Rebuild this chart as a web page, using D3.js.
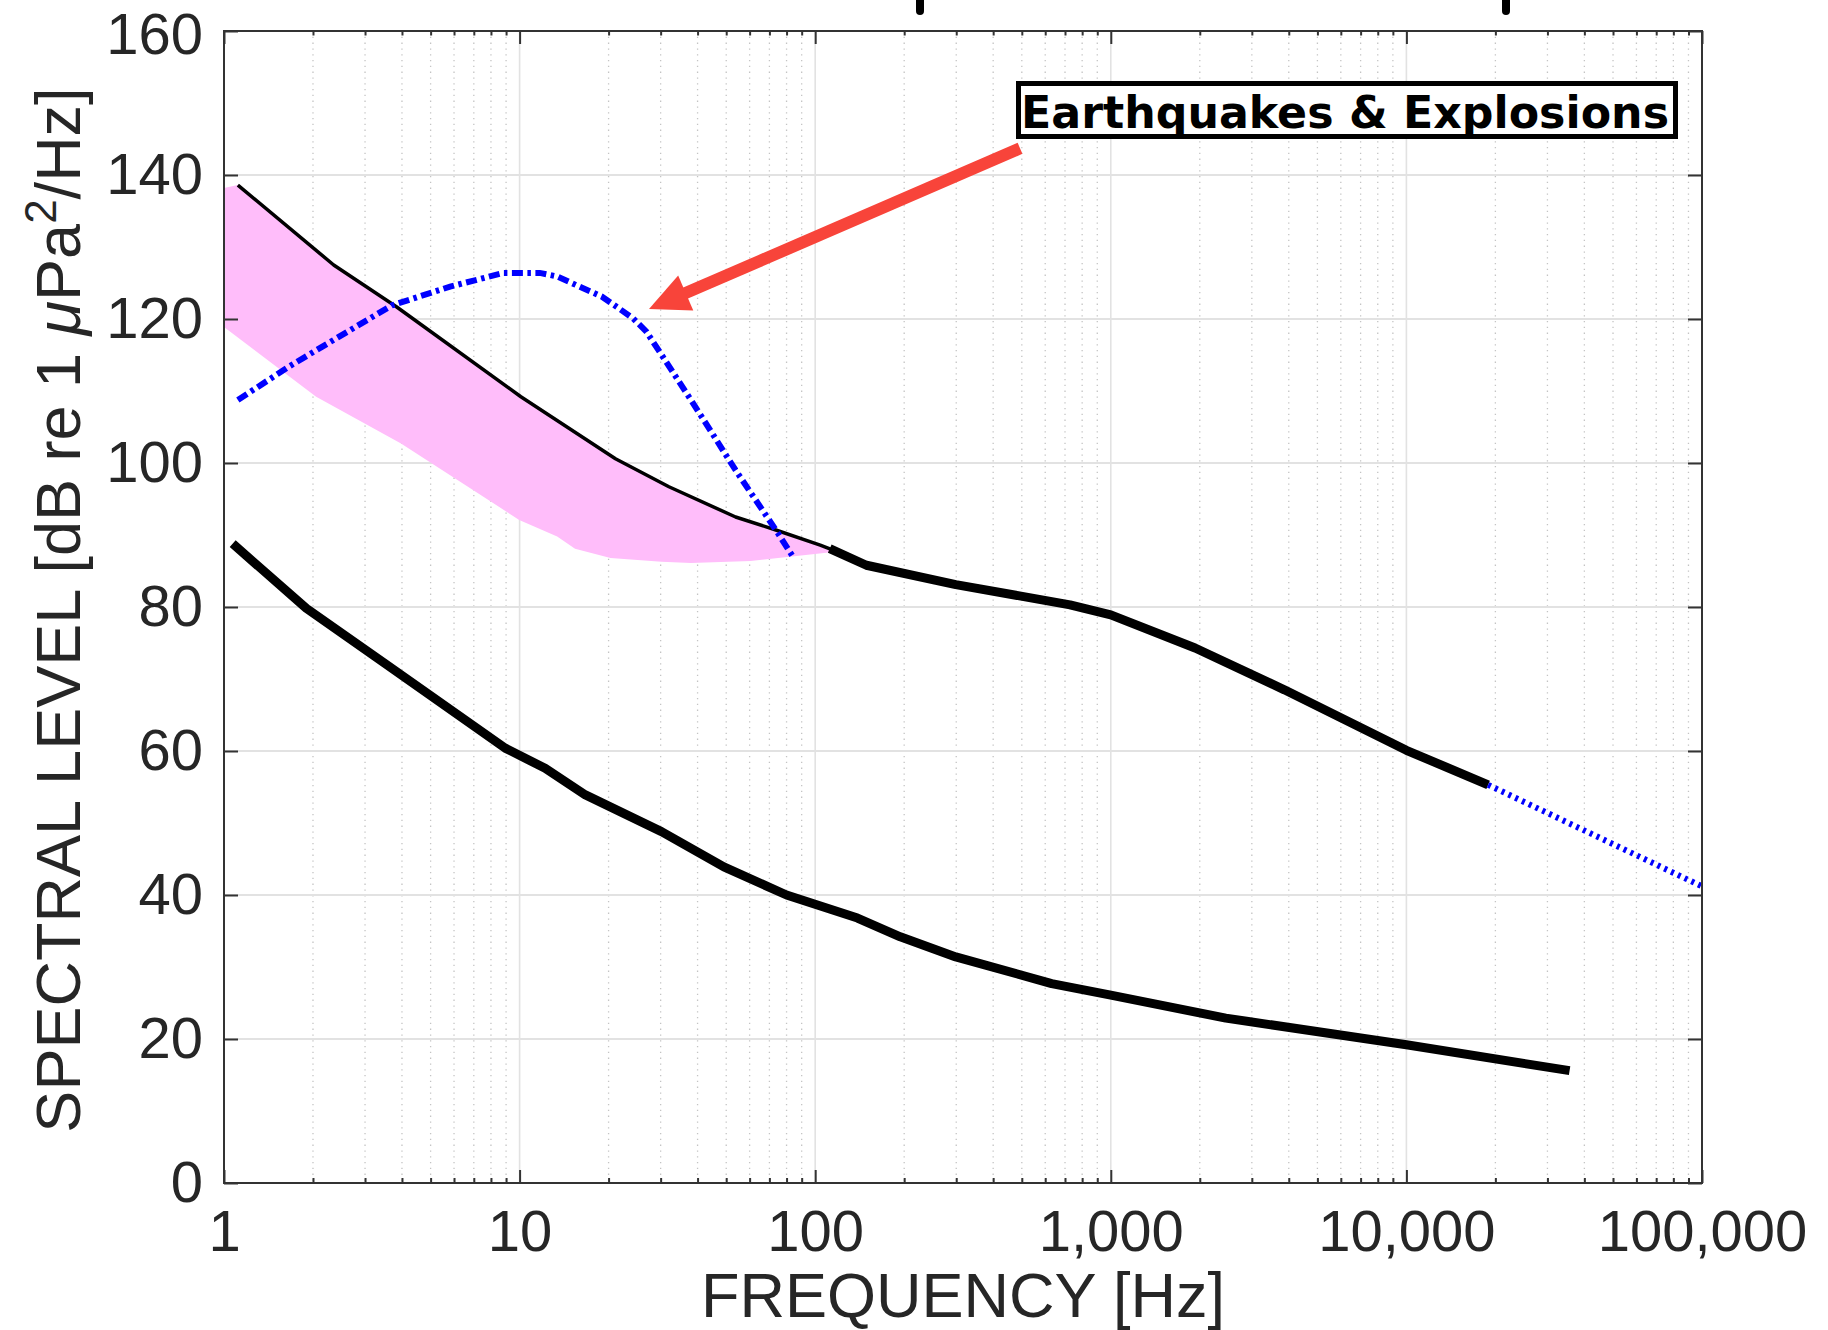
<!DOCTYPE html>
<html>
<head>
<meta charset="utf-8">
<script src="https://cdn.jsdelivr.net/npm/d3@7"></script>
<style>
  body { margin: 0; background: #fff; }
  svg { display: block; background: #fff; }
</style>
</head>
<body>
<svg id="chart" width="1828" height="1330"></svg>
<script>
// values (frequency in Hz, level in dB)

// upper black curve, thin part below ~100 Hz
const upperThinFreq = [1.114, 2.35, 3.83, 10.1, 21.1, 32, 53.8, 73.6, 104, 115];
const upperThinDb   = [138.6, 127.5, 121.7, 109.2, 100.6, 96.7, 92.5, 90.7, 88.6, 87.9];

// upper black curve, thick part
const upperThickFreq = [112, 149, 299, 728, 1000, 1928, 3865, 10000, 18900];
const upperThickDb   = [88.1, 85.8, 83.1, 80.3, 78.9, 74.3, 68.5, 60.1, 55.3];

// extrapolated part (blue dotted)
const extrapFreq = [18900, 100000];
const extrapDb   = [55.3, 41.2];

// lower black curve
const lowerFreq = [1.07, 1.9, 3.49, 8.94, 12.2, 16.7, 30.2, 49.1, 80, 139, 194, 299, 631, 1000, 2450, 10000, 35650];
const lowerDb   = [88.8, 79.8, 72.2, 60.4, 57.6, 53.9, 48.8, 43.9, 40, 36.8, 34.2, 31.4, 27.7, 26.1, 22.9, 19.2, 15.6];

// earthquakes & explosions (blue dash-dot)
const quakeFreq = [1.114, 1.66, 2.35, 3.70, 5.82, 8.83, 11.7, 13.4, 19, 24.2, 26.9, 38, 53.8, 73.6, 84.6];
const quakeDb   = [108.75, 113.4, 117.1, 121.9, 124.5, 126.4, 126.4, 125.9, 123.1, 120.1, 118.2, 108.75, 99, 90.7, 86.8];

// pink band
const bandTopFreq = [1, 1.114, 2.35, 3.83, 10.1, 21.1, 32, 53.8, 73.6, 104, 115];
const bandTopDb   = [138.2, 138.6, 127.5, 121.7, 109.2, 100.6, 96.7, 92.5, 90.7, 88.6, 87.9];
const bandLowFreq = [1, 2.05, 3.97, 9.97, 13.4, 15.4, 20.3, 30.2, 38, 60.5, 113];
const bandLowDb   = [118.9, 109.2, 102.7, 92.1, 89.8, 88.1, 86.8, 86.3, 86.1, 86.4, 87.6];

// red arrow (tail -> tip)
const arrowFreq = [493, 27.4];
const arrowDb   = [143.7, 121.4];

// ticks
const xMajor = [1, 10, 100, 1000, 10000, 100000];
const yMajor = [0, 20, 40, 60, 80, 100, 120, 140, 160];
const xMinor = [];
for (let d = 1; d < 100000; d *= 10) for (let k = 2; k <= 9; k++) xMinor.push(d * k);

const legendText = "Earthquakes & Explosions";

const svg = d3.select("#chart");
const m = {left: 224, right: 1702, top: 31, bottom: 1183};
const FONT = "'Liberation Sans', Arial, Helvetica, sans-serif";
const TXT = "#262626";

const x = d3.scaleLog().domain([1, 100000]).range([m.left, m.right]);
const y = d3.scaleLinear().domain([0, 160]).range([m.bottom, m.top]);

// grid
const grid = svg.append("g");
grid.selectAll(".minor").data(xMinor).join("line")
  .attr("x1", d => x(d)).attr("x2", d => x(d))
  .attr("y1", m.top).attr("y2", m.bottom)
  .attr("stroke", "#c4c4c4").attr("stroke-width", 1.3)
  .attr("stroke-dasharray", "1.3,4.5");
grid.selectAll(".majx").data(xMajor.slice(1, -1)).join("line")
  .attr("x1", d => x(d)).attr("x2", d => x(d))
  .attr("y1", m.top).attr("y2", m.bottom)
  .attr("stroke", "#e2e2e2").attr("stroke-width", 1.6);
grid.selectAll(".majy").data(yMajor.slice(1, -1)).join("line")
  .attr("x1", m.left).attr("x2", m.right)
  .attr("y1", d => y(d)).attr("y2", d => y(d))
  .attr("stroke", "#e2e2e2").attr("stroke-width", 2);

const line = d3.line().x(d => x(d[0])).y(d => y(d[1]));

// pink band
const bandPts = d3.zip(bandTopFreq, bandTopDb).concat(d3.zip(bandLowFreq, bandLowDb).reverse());
svg.append("path")
  .attr("d", line(bandPts) + "Z")
  .attr("fill", "#ffbdfa");

// curves
svg.append("path").attr("d", line(d3.zip(upperThinFreq, upperThinDb)))
  .attr("fill", "none").attr("stroke", "#000").attr("stroke-width", 3.5)
  .attr("stroke-linejoin", "round");
svg.append("path").attr("d", line(d3.zip(upperThickFreq, upperThickDb)))
  .attr("fill", "none").attr("stroke", "#000").attr("stroke-width", 9)
  .attr("stroke-linejoin", "round");
svg.append("path").attr("d", line(d3.zip(lowerFreq, lowerDb)))
  .attr("fill", "none").attr("stroke", "#000").attr("stroke-width", 9)
  .attr("stroke-linejoin", "round");
svg.append("path").attr("d", line(d3.zip(extrapFreq, extrapDb)))
  .attr("fill", "none").attr("stroke", "#0000ff").attr("stroke-width", 6)
  .attr("stroke-dasharray", "3,4.5");
svg.append("path").attr("d", line(d3.zip(quakeFreq, quakeDb)))
  .attr("fill", "none").attr("stroke", "#0000ff").attr("stroke-width", 6)
  .attr("stroke-dasharray", "11,4.5,3.5,4.5");

// axes frame
svg.append("rect")
  .attr("x", m.left).attr("y", m.top)
  .attr("width", m.right - m.left).attr("height", m.bottom - m.top)
  .attr("fill", "none").attr("stroke", "#333").attr("stroke-width", 2);

function styleAxis(g) {
  g.select(".domain").remove();
  g.selectAll(".tick line").attr("stroke", "#333").attr("stroke-width", 2);
  g.selectAll("text").attr("fill", TXT).attr("font-family", FONT).attr("font-size", 58);
}

svg.append("g").attr("transform", `translate(0,${m.bottom})`)
  .call(d3.axisBottom(x).tickValues(xMajor).tickSizeInner(-13).tickSizeOuter(0)
    .tickPadding(27).tickFormat(d3.format(",")))
  .call(styleAxis);
svg.append("g").attr("transform", `translate(0,${m.bottom})`)
  .call(d3.axisBottom(x).tickValues(xMinor).tickSize(-5).tickFormat(""))
  .call(styleAxis);
svg.append("g").attr("transform", `translate(0,${m.top})`)
  .call(d3.axisTop(x).tickValues(xMajor).tickSize(-13).tickFormat(""))
  .call(styleAxis);
svg.append("g").attr("transform", `translate(0,${m.top})`)
  .call(d3.axisTop(x).tickValues(xMinor).tickSize(-4.5).tickFormat(""))
  .call(styleAxis);
svg.append("g").attr("transform", `translate(${m.left},0)`)
  .call(d3.axisLeft(y).tickValues(yMajor).tickSizeInner(-14).tickSizeOuter(0).tickPadding(21))
  .call(styleAxis)
  // keep the topmost label inside the page
  .selectAll(".tick text").filter(d => d === 160).attr("dy", "0.38em");
svg.append("g").attr("transform", `translate(${m.right},0)`)
  .call(d3.axisRight(y).tickValues(yMajor).tickSize(-14).tickFormat(""))
  .call(styleAxis);

// axis labels
svg.append("text")
  .attr("x", (m.left + m.right) / 2).attr("y", 1317)
  .attr("text-anchor", "middle")
  .attr("font-family", FONT).attr("font-size", 63).attr("fill", TXT)
  .text("FREQUENCY [Hz]");

const yl = svg.append("text")
  .attr("transform", "translate(80,610) rotate(-90)")
  .attr("text-anchor", "middle")
  .attr("font-family", FONT).attr("font-size", 63).attr("fill", TXT);
yl.append("tspan").text("SPECTRAL LEVEL [dB re 1 ");
yl.append("tspan").attr("font-style", "italic").text("\u03bc");
yl.append("tspan").text("Pa");
yl.append("tspan").attr("font-size", 44).attr("dy", -24).text("2");
yl.append("tspan").attr("dy", 24).text("/Hz]");

// red arrow
const tail = [x(arrowFreq[0]), y(arrowDb[0])];
const tip = [x(arrowFreq[1]), y(arrowDb[1])];
const len = Math.hypot(tip[0] - tail[0], tip[1] - tail[1]);
const u = [(tip[0] - tail[0]) / len, (tip[1] - tail[1]) / len];
const n = [-u[1], u[0]];
const headLen = 40, headHalf = 19;
const base = [tip[0] - u[0] * headLen, tip[1] - u[1] * headLen];
svg.append("line")
  .attr("x1", tail[0]).attr("y1", tail[1])
  .attr("x2", base[0] + u[0] * 2).attr("y2", base[1] + u[1] * 2)
  .attr("stroke", "#f8443a").attr("stroke-width", 12);
svg.append("polygon")
  .attr("points", [tip, [base[0] + n[0] * headHalf, base[1] + n[1] * headHalf],
                        [base[0] - n[0] * headHalf, base[1] - n[1] * headHalf]].join(" "))
  .attr("fill", "#f8443a");

// legend box
svg.append("rect")
  .attr("x", 1018.5).attr("y", 83.5).attr("width", 657).attr("height", 53)
  .attr("fill", "#fff").attr("stroke", "#000").attr("stroke-width", 5);
svg.append("text")
  .attr("x", 1021).attr("y", 128)
  .attr("font-family", "'DejaVu Sans', " + FONT).attr("font-weight", "bold").attr("font-size", 44)
  .attr("textLength", 648).attr("lengthAdjust", "spacingAndGlyphs")
  .attr("fill", "#000")
  .text(legendText);

// cut-off marks at the top edge
svg.selectAll(".topmark").data([920, 1506]).join("line")
  .attr("x1", d => d).attr("x2", d => d).attr("y1", -5).attr("y2", 11)
  .attr("stroke", "#000").attr("stroke-width", 8).attr("stroke-linecap", "round");
</script>
</body>
</html>
